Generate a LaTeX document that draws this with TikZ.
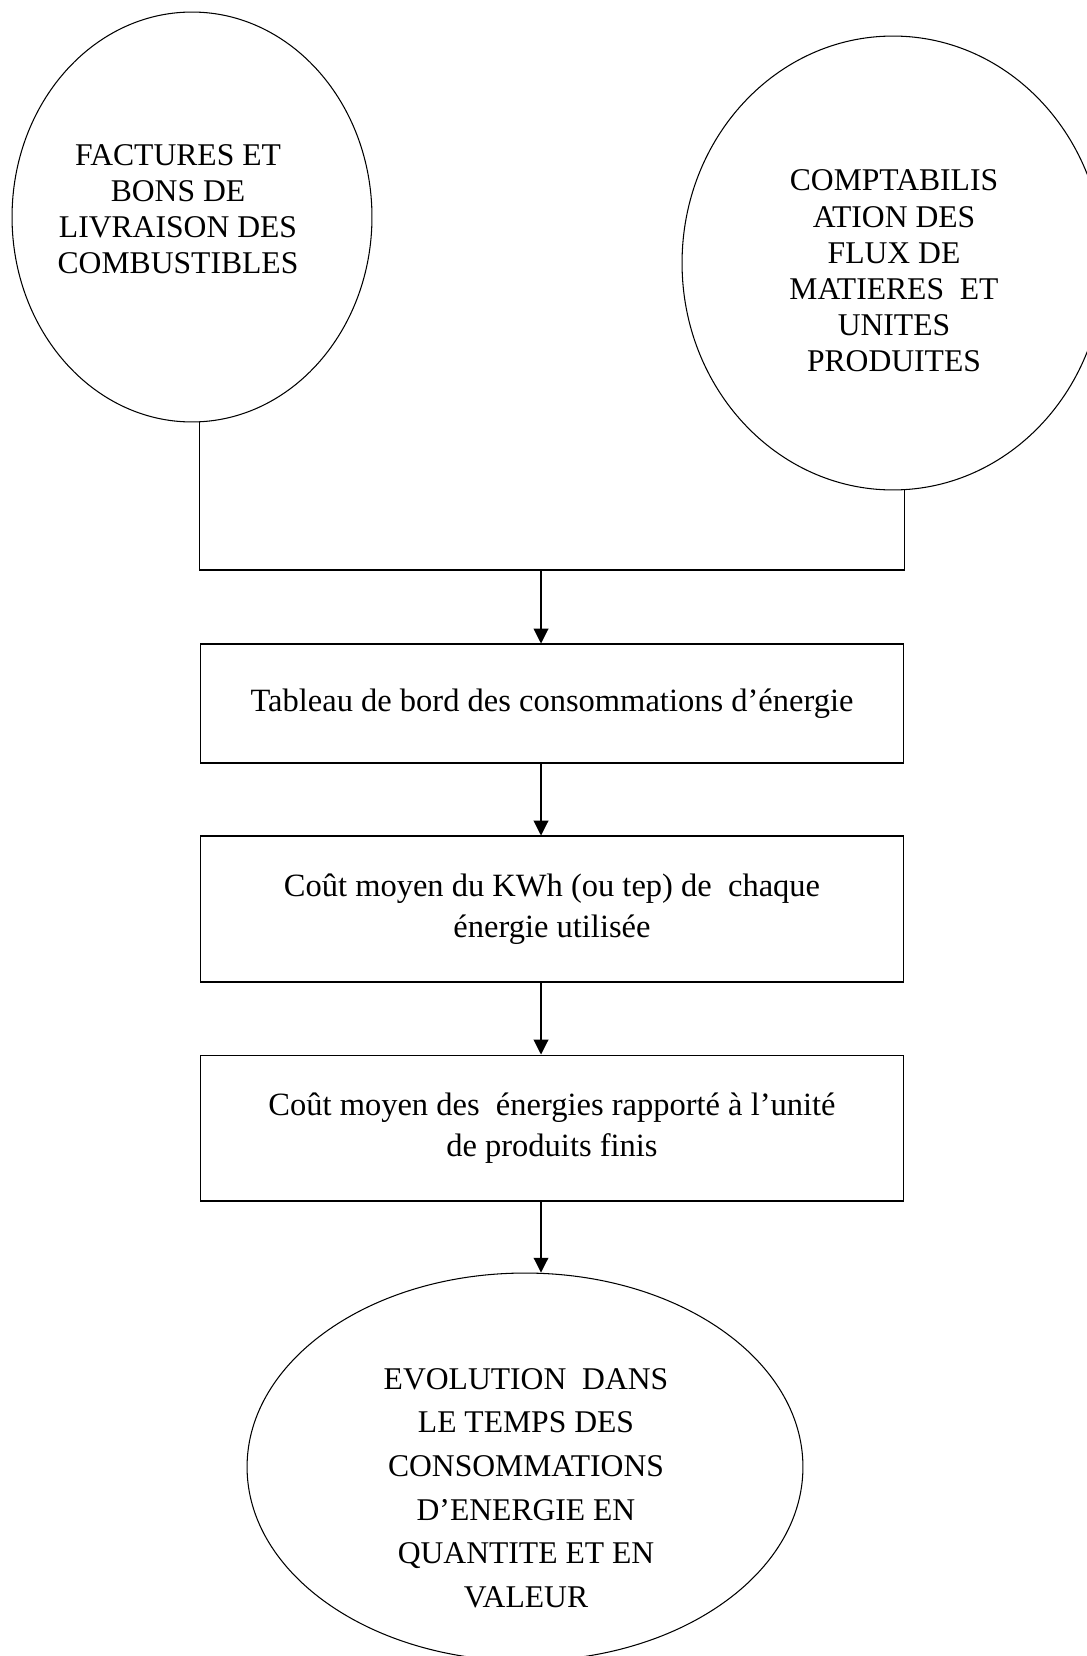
\documentclass[tikz,border=0pt]{standalone}
\usepackage{fontspec}
\setmainfont{Liberation Serif}
\usetikzlibrary{arrows.meta, calc, shapes.geometric}

\begin{document}
\begin{tikzpicture}[x=0.02cm, y=-0.02cm, >={Triangle[length=8.4pt, width=8.4pt]}, line width=0.6pt,
  every node/.style={font=\fontsize{18}{20.6}\selectfont},
  bubble/.style={draw, ellipse, inner sep=0pt},
  bubbletext/.style={align=center, inner sep=0pt},
  procbox/.style={draw, align=center, minimum width=14.08cm, inner sep=0pt, font=\fontsize{18.5}{23}\selectfont}]
  \useasboundingbox (0,0) rectangle (1087,1656);
  % sources
  \node[bubble, minimum width=7.2cm, minimum height=8.2cm] (factures) at (192,217) {};
  \node[bubbletext] (facturestxt) at (178,209) {FACTURES ET\\BONS DE\\LIVRAISON DES\\COMBUSTIBLES};
  \node[bubble, minimum width=8.44cm, minimum height=9.08cm] (compta) at (893,263) {};
  \node[bubbletext] (comptatxt) at (894,271) {COMPTABILIS\\ATION DES\\FLUX DE\\MATIERES\ \ ET\\UNITES\\PRODUITES};
  % chain of boxes
  \node[procbox, minimum height=2.38cm] (tableau) at (552,703.5) {Tableau de bord des consommations d’énergie};
  \node[procbox, minimum height=2.92cm] (cout) at (552,909) {Coût moyen du KWh (ou tep) de\ \ chaque\\énergie utilisée};
  \node[procbox, minimum height=2.92cm] (rapport) at (552,1128) {Coût moyen des\ \ énergies rapporté à l’unité\\de produits finis};
  % result
  \node[bubble, minimum width=11.12cm, minimum height=7.76cm] (evolution) at (525,1467) {};
  \node[bubbletext, font=\fontsize{18}{24.8}\selectfont] (evolutiontxt) at (526,1488) {EVOLUTION\ \ DANS\\LE TEMPS DES\\CONSOMMATIONS\\D’ENERGIE EN\\QUANTITE ET EN\\VALEUR};
  % connectors
  \coordinate (split) at (541,570);
  \draw (factures.south -| tableau.west) -- (tableau.west |- split) -- (tableau.east |- split) -- (compta.south -| tableau.east);
  \draw[->] (split) -- (split |- tableau.north);
  \draw[->] (tableau.south -| split) -- (split |- cout.north);
  \draw[->] (cout.south -| split) -- (split |- rapport.north);
  \draw[->] (rapport.south -| split) -- (split |- evolution.north);
\end{tikzpicture}
\end{document}
